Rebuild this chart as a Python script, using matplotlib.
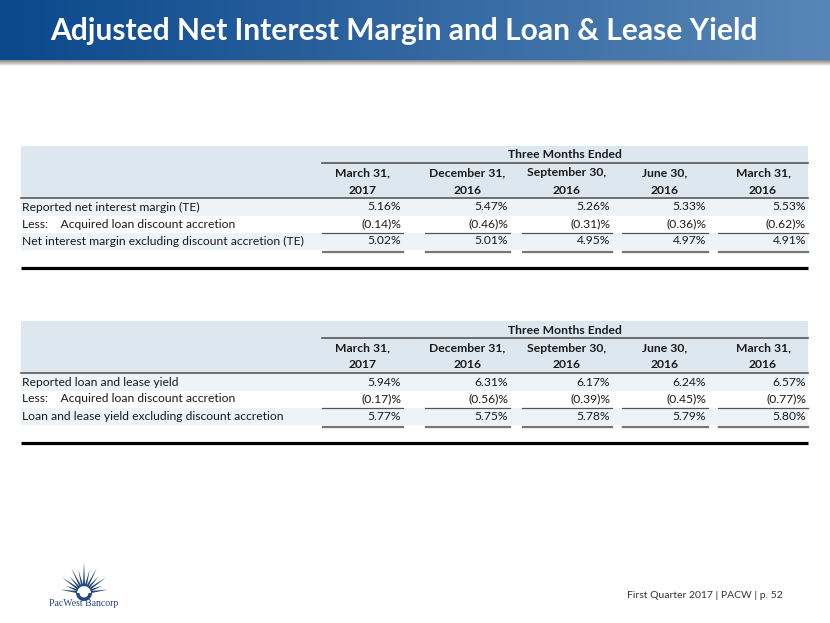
import numpy as np
import matplotlib.pyplot as plt
from matplotlib.patches import Rectangle, Polygon, Wedge

# column headers of both tables
periods = ["March 31,", "December 31,", "September 30,", "June 30,", "March 31,"]
years = ["2017", "2016", "2016", "2016", "2016"]

# net interest margin table
nim_labels = ["Reported net interest margin (TE)",
              "Less:    Acquired loan discount accretion",
              "Net interest margin excluding discount accretion (TE)"]
nim_reported = [5.16, 5.47, 5.26, 5.33, 5.53]
nim_accretion = [0.14, 0.46, 0.31, 0.36, 0.62]
nim_adjusted = [5.02, 5.01, 4.95, 4.97, 4.91]

# loan and lease yield table
yield_labels = ["Reported loan and lease yield",
                "Less:    Acquired loan discount accretion",
                "Loan and lease yield excluding discount accretion"]
yield_reported = [5.94, 6.31, 6.17, 6.24, 6.57]
yield_accretion = [0.17, 0.56, 0.39, 0.45, 0.77]
yield_adjusted = [5.77, 5.75, 5.78, 5.79, 5.80]

title = "Adjusted Net Interest Margin and Loan & Lease Yield"
footer = "First Quarter 2017 | PACW | p. 52"

W, H = 830, 623
FONT = "Lato"
TEXT = "#1a1a1a"
HEADER_BG = "#dde7f0"
ROW_BG = "#eef3f8"
LINE = "#555555"
LOGO = "#24467e"

col_left = [322, 425, 522, 622, 718]
col_right = [403, 510, 612, 708, 808]
tbl_left, tbl_right = 21, 808


def draw_title_bar(ax):
    c1 = np.array([11, 72, 140]) / 255
    c2 = np.array([88, 134, 182]) / 255
    t = np.linspace(0, 1, 256)
    grad = (c1[None, :] * (1 - t[:, None]) + c2[None, :] * t[:, None])[None, :, :]
    ax.imshow(grad, extent=[0, W, 60, 0], aspect="auto", zorder=1)
    # soft shadow under the bar
    for i in range(6):
        g = 0.55 + i * 0.08
        ax.add_patch(Rectangle((0, 60 + i), W, 1, color=(g, g, g), lw=0, zorder=1))
    ax.text(50, 31, title, color="white", fontsize=21.6, fontweight="bold",
            family=FONT, ha="left", va="center", zorder=2)


def fmt_pct(v):
    return f"{v:.2f}%"


def fmt_neg(v):
    return f"({v:.2f})%"


def draw_table(ax, top, labels, reported, accretion, adjusted):
    ax.add_patch(Rectangle((tbl_left, top), tbl_right - tbl_left, 51, color=HEADER_BG, lw=0))
    for i in (0, 2):
        ax.add_patch(Rectangle((tbl_left, top + 52.5 + 17 * i), tbl_right - tbl_left, 17,
                               color=ROW_BG, lw=0))

    ax.text((col_left[0] + tbl_right) / 2, top + 9, "Three Months Ended", fontsize=8.7,
            fontweight="bold", family=FONT, color=TEXT, ha="center", va="center")
    ax.plot([col_left[0], tbl_right], [top + 17, top + 17], color=LINE, lw=1.2)
    for j in range(len(periods)):
        cx = (col_left[j] + col_right[j]) / 2
        ax.text(cx, top + 27, periods[j], fontsize=8.7, fontweight="bold", family=FONT,
                color=TEXT, ha="center", va="center")
        ax.text(cx, top + 44, years[j], fontsize=8.7, fontweight="bold", family=FONT,
                color=TEXT, ha="center", va="center")
    ax.plot([tbl_left, tbl_right], [top + 51.5, top + 51.5], color=LINE, lw=1.2)

    rows = [[fmt_pct(v) for v in reported],
            [fmt_neg(v) for v in accretion],
            [fmt_pct(v) for v in adjusted]]
    for i, (label, vals) in enumerate(zip(labels, rows)):
        y = top + 61 + 17 * i
        ax.text(22, y, label, fontsize=8.7, family=FONT, color=TEXT, ha="left", va="center")
        for j, s in enumerate(vals):
            ax.text(col_right[j] - 2, y, s, fontsize=8.7, family=FONT, color=TEXT,
                    ha="right", va="center")

    for j in range(len(col_left)):
        ax.plot([col_left[j], col_right[j]], [top + 86.5, top + 86.5], color=LINE, lw=0.9)
        ax.plot([col_left[j], col_right[j]], [top + 104.5, top + 104.5], color="#777777", lw=0.9)
        ax.plot([col_left[j], col_right[j]], [top + 106.3, top + 106.3], color="#777777", lw=0.9)

    ax.plot([tbl_left, tbl_right], [top + 122, top + 122], color="black", lw=2.3,
            solid_capstyle="butt")


def draw_logo(ax):
    cx, cy = 84, 593
    angles = np.linspace(8, 172, 13)
    lengths = [24, 20, 27, 22, 28, 24, 31, 24, 28, 22, 27, 20, 24]
    for a, r in zip(angles, lengths):
        th = np.radians(a)
        tip = (cx + r * np.cos(th), cy - r * np.sin(th))
        w = np.radians(9)
        b1 = (cx + 7 * np.cos(th - w), cy - 7 * np.sin(th - w))
        b2 = (cx + 7 * np.cos(th + w), cy - 7 * np.sin(th + w))
        ax.add_patch(Polygon([b1, tip, b2], closed=True, color=LOGO, lw=0))
    ax.add_patch(Wedge((cx, cy), 8, 0, 180, width=3.5, color=LOGO, lw=0))
    ax.text(cx, 603, "PacWest Bancorp", fontsize=7, family="Liberation Serif", color=LOGO,
            ha="center", va="center")


def main():
    fig = plt.figure(figsize=(8.3, 6.23), dpi=100)
    ax = fig.add_axes([0, 0, 1, 1])
    draw_title_bar(ax)
    draw_table(ax, 146, nim_labels, nim_reported, nim_accretion, nim_adjusted)
    draw_table(ax, 321, yield_labels, yield_reported, yield_accretion, yield_adjusted)
    draw_logo(ax)
    ax.text(783, 596, footer, fontsize=7.5, family=FONT, color="#333333", ha="right", va="center")
    ax.set_xlim(0, W)
    ax.set_ylim(H, 0)
    ax.axis("off")
    fig.savefig("out.png", dpi=100)


if __name__ == "__main__":
    main()
